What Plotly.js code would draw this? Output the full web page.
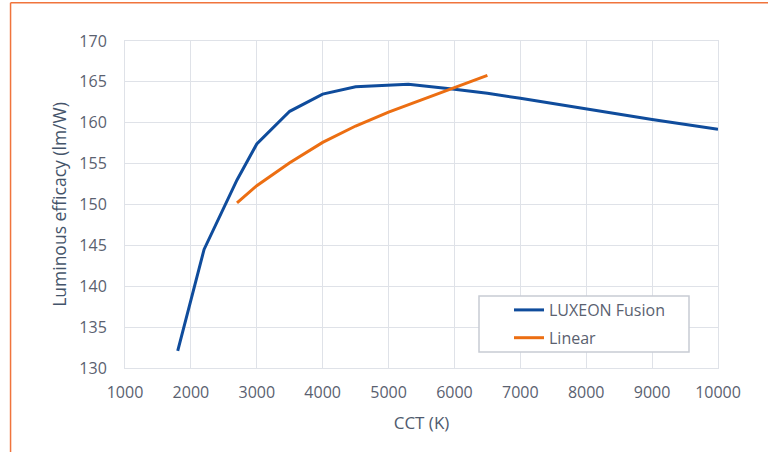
<!DOCTYPE html>
<html>
<head>
<meta charset="utf-8">
<script src="https://cdn.plot.ly/plotly-3.0.1.min.js"></script>
<style>
html,body{margin:0;padding:0;background:#fff;}
#chart{width:768px;height:452px;}
</style>
</head>
<body>
<div id="chart"></div>
<script>
const fusionCCT = [1800, 2200, 2700, 3000, 3500, 4000, 4500, 5300, 6000, 6500, 7000, 8000, 9000, 10000];
const fusionEff = [132.1, 144.5, 153.0, 157.4, 161.4, 163.5, 164.4, 164.7, 164.1, 163.6, 163.0, 161.7, 160.4, 159.2];
const linearCCT = [2700, 3000, 3500, 4000, 4500, 5000, 5500, 6000, 6500];
const linearEff = [150.2, 152.3, 155.1, 157.6, 159.6, 161.3, 162.8, 164.3, 165.8];
const xTicks = [1000, 2000, 3000, 4000, 5000, 6000, 7000, 8000, 9000, 10000];
const yTicks = [130, 135, 140, 145, 150, 155, 160, 165, 170];

const font = "'Open Sans', sans-serif";
const traces = [
  {x: fusionCCT, y: fusionEff, name: 'LUXEON Fusion', mode: 'lines', type: 'scatter', legendgroup: 'a',
   line: {color: '#0f4c9c', width: 3}},
  {x: linearCCT, y: linearEff, name: 'Linear', mode: 'lines', type: 'scatter', legendgroup: 'b',
   line: {color: '#ec6e12', width: 3}}
];
// legend box (paper coords): px 479..689, 296..352 ; plot px 125..718, 41..368
const pw = 593, ph = 327;
const layout = {
  width: 768, height: 452,
  margin: {l: 125, r: 50, t: 41, b: 84},
  paper_bgcolor: '#ffffff', plot_bgcolor: '#ffffff',
  font: {family: font, size: 16, color: '#5a6170'},
  showlegend: true,
  legend: {x: (509 - 125) / pw, y: (368 - 293) / ph, xanchor: 'left', yanchor: 'top',
    borderwidth: 0, bgcolor: 'rgba(255,255,255,0)',
    font: {family: font, size: 16, color: '#5a6170'}, tracegroupgap: 4},
  xaxis: {range: [1000, 10000], tickvals: xTicks, ticktext: xTicks.map(String),
    showgrid: true, gridcolor: '#dfe2e8', gridwidth: 1, zeroline: false,
    showline: true, linecolor: '#dfe2e8', mirror: true, ticks: 'outside', ticklen: 10, tickcolor: 'rgba(0,0,0,0)',
    title: {text: 'CCT (K)', font: {family: font, size: 17, color: '#4f5a6e'}, standoff: 14}},
  yaxis: {range: [130, 170], tickvals: yTicks, ticktext: yTicks.map(String),
    showgrid: true, gridcolor: '#dfe2e8', gridwidth: 1, zeroline: false,
    showline: true, linecolor: '#dfe2e8', mirror: true, ticks: 'outside', ticklen: 14, tickcolor: 'rgba(0,0,0,0)',
    title: {text: 'Luminous efficacy (lm/W)', font: {family: font, size: 17.5, color: '#44546a'}, standoff: 8}},
  shapes: [
    {type: 'rect', xref: 'paper', yref: 'paper', layer: 'above',
     x0: (479 - 125) / pw, x1: (689 - 125) / pw, y0: (368 - 352) / ph, y1: (368 - 296) / ph,
     fillcolor: '#ffffff', line: {color: '#c8ccd4', width: 1.5}},
    {type: 'line', xref: 'paper', yref: 'paper', x0: -0.193, x1: 1.1, y0: 1.117, y1: 1.117,
     line: {color: '#f0743c', width: 1.5}},
    {type: 'line', xref: 'paper', yref: 'paper', x0: -0.193, x1: -0.193, y0: 1.117, y1: -0.3,
     line: {color: '#f0743c', width: 1.5}}
  ]
};
Plotly.newPlot('chart', traces, layout, {displayModeBar: false, staticPlot: true});
</script>
</body>
</html>
